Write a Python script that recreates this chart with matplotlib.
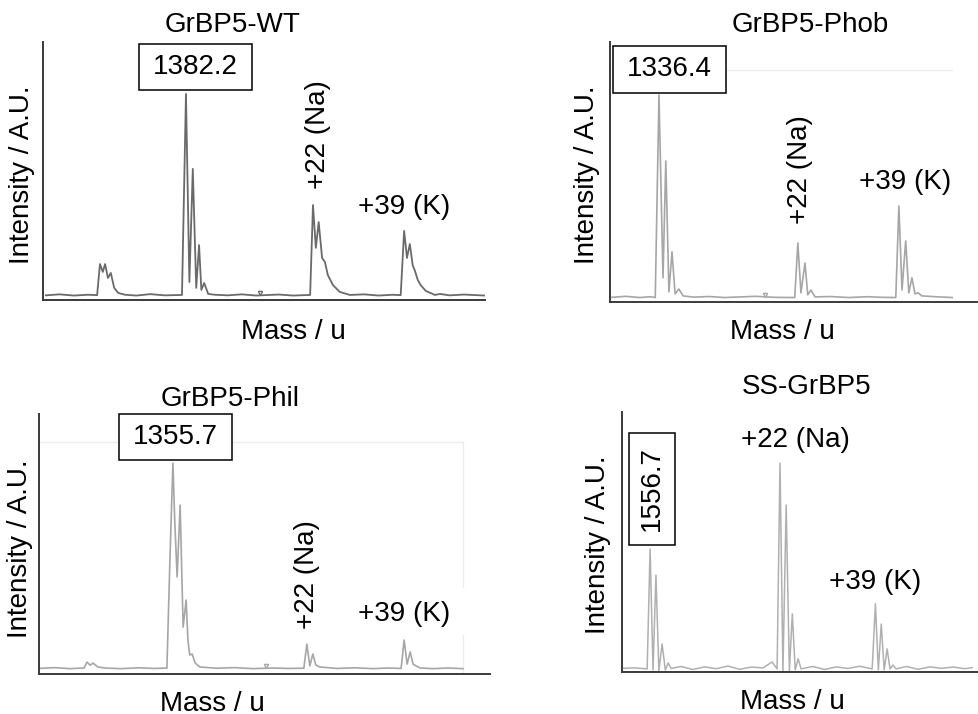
import numpy as np
import matplotlib
matplotlib.use("Agg")
import matplotlib.pyplot as plt
from matplotlib.patches import Rectangle

plt.rcParams['font.family'] = ['Liberation Sans', 'DejaVu Sans']

W, H = 979, 714

# --- spectra: mass (u) and intensity (% of panel max) ---
wt_mass = [1357.6, 1360.0, 1362.5, 1365.0, 1366.6, 1367.1, 1367.6, 1368.0, 1368.5, 1369.0,
           1369.6, 1370.3, 1371.5, 1373.5, 1375.9, 1378.5, 1381.5, 1382.2, 1382.8, 1383.4,
           1384.0, 1384.5, 1384.9, 1385.4, 1386.1, 1387.3, 1389.5, 1392.0, 1394.5, 1396.0,
           1398.5, 1401.0, 1404.0, 1404.5, 1405.0, 1405.5, 1406.1, 1406.6, 1407.1, 1408.0,
           1409.2, 1411.0, 1413.5, 1416.0, 1418.5, 1419.9, 1420.5, 1421.0, 1421.5, 1422.0,
           1422.4, 1422.9, 1423.4, 1424.3, 1425.9, 1426.8, 1428.5, 1431.0, 1434.7]
wt_int = [0.3, 0.8, 0.2, 0.6, 0.4, 15.8, 11.9, 15.8, 8.9, 11.4,
          4.0, 1.5, 0.6, 0.2, 0.9, 0.3, 0.5, 100.0, 6.9, 62.9,
          4.0, 25.2, 3.0, 6.4, 1.0, 0.6, 0.3, 0.8, 0.2, 0.4,
          0.7, 0.2, 0.5, 45.0, 23.8, 36.6, 18.8, 16.8, 10.4, 5.4,
          2.0, 0.5, 0.8, 0.2, 0.6, 0.4, 32.2, 18.8, 25.7, 15.3,
          12.4, 7.9, 5.4, 2.5, 0.5, 1.0, 0.3, 0.7, 0.2]

phob_mass = [1328.8, 1331.0, 1333.3, 1335.0, 1335.8, 1336.4, 1337.05, 1337.5, 1338.0, 1338.5,
             1339.0, 1339.6, 1340.3, 1342.0, 1344.5, 1347.0, 1349.5, 1352.0, 1355.0, 1358.3,
             1358.8, 1359.3, 1359.95, 1360.4, 1360.9, 1361.6, 1364.0, 1367.0, 1370.0, 1372.5,
             1374.6, 1375.1, 1375.6, 1376.2, 1376.7, 1377.2, 1377.7, 1378.2, 1378.8, 1381.0,
             1383.7]
phob_int = [0.3, 0.8, 0.2, 0.6, 0.2, 100.0, 9.9, 67.5, 3.0, 22.7,
            2.0, 4.4, 1.0, 0.4, 0.7, 0.2, 0.5, 0.8, 0.3, 0.2,
            27.1, 2.5, 17.2, 1.5, 3.9, 0.5, 0.7, 0.2, 0.6, 0.3,
            0.2, 45.3, 3.9, 28.1, 2.5, 9.9, 2.0, 2.5, 1.0, 0.6,
            0.2]

phil_mass = [1333.5, 1336.0, 1338.5, 1340.9, 1341.4, 1341.9, 1342.4, 1343.2, 1344.4, 1347.0,
             1350.0, 1352.5, 1354.7, 1355.2, 1355.7, 1356.0, 1356.4, 1356.9, 1357.4, 1357.9,
             1358.2, 1358.5, 1358.9, 1359.4, 1360.2, 1363.0, 1366.0, 1369.0, 1372.5, 1375.0,
             1377.5, 1378.0, 1378.5, 1379.0, 1379.5, 1380.2, 1383.0, 1386.0, 1389.0, 1391.5,
             1393.7, 1394.2, 1394.7, 1395.2, 1395.7, 1396.2, 1396.9, 1399.0, 1401.5, 1404.0]
phil_int = [0.3, 0.7, 0.2, 0.5, 3.4, 1.9, 2.9, 1.0, 0.5, 0.2,
            0.6, 0.3, 0.5, 52.9, 100.0, 72.3, 44.7, 79.6, 20.4, 33.5,
            14.1, 6.8, 7.3, 2.9, 1.0, 0.4, 0.7, 0.2, 0.5, 0.3,
            0.4, 12.1, 1.5, 7.3, 1.9, 1.0, 0.3, 0.6, 0.2, 0.5,
            0.3, 14.1, 2.4, 8.3, 2.4, 1.5, 0.5, 0.2, 0.5, 0.2]

ss_mass = [1552.1, 1554.1, 1556.2, 1556.7, 1557.2, 1557.7, 1558.2, 1558.75, 1559.3, 1559.8,
           1560.3, 1562.0, 1564.0, 1566.0, 1568.0, 1570.0, 1572.0, 1574.0, 1576.0, 1577.55,
           1578.4, 1578.9, 1579.4, 1579.95, 1580.5, 1581.0, 1581.5, 1582.0, 1582.5, 1584.5,
           1586.5, 1588.5, 1590.5, 1592.5, 1594.65, 1595.2, 1595.7, 1596.2, 1596.7, 1597.2,
           1597.7, 1598.2, 1598.75, 1600.5, 1602.5, 1604.5, 1606.5, 1608.5, 1610.5, 1611.7]
ss_int = [0.3, 0.5, 0.0, 58.3, -0.5, 45.6, -1.0, 12.1, -0.5, 2.9,
          0.2, 1.2, -0.3, 1.0, 0.1, 1.4, -0.2, 0.9, 0.5, 3.4,
          0.0, 100.0, -1.0, 79.6, -1.0, 26.7, -0.5, 4.9, 0.0, 1.2,
          -0.3, 1.0, 0.2, 1.3, 0.0, 31.6, -0.5, 21.8, -0.5, 9.7,
          0.0, 1.9, 0.0, 1.2, -0.2, 1.0, 0.3, 0.9, 0.1, 0.6]

# small instrument marks (mass, intensity)
wt_mark = (1395.2, 1.6)
phob_mark = (1353.5, 1.6)
phil_mark = (1371.2, 1.4)

titles = ["GrBP5-WT", "GrBP5-Phob", "GrBP5-Phil", "SS-GrBP5"]
main_labels = ["1382.2", "1336.4", "1355.7", "1556.7"]


def px_axes(x0, x1, ytop, ybot):
    ax = fig.add_axes([x0 / W, 1 - ybot / H, (x1 - x0) / W, (ybot - ytop) / H])
    ax.set_xticks([])
    ax.set_yticks([])
    for s in ("top", "right"):
        ax.spines[s].set_visible(False)
    for s in ("left", "bottom"):
        ax.spines[s].set_color("#3a3a3a")
        ax.spines[s].set_linewidth(1.4)
    ax.patch.set_alpha(0)
    return ax


def ftext(x, y, s, **kw):
    fig.text(x / W, 1 - y / H, s, ha="center", va="center", fontsize=20, **kw)


def fbox(x0, y0, x1, y1):
    fig.add_artist(Rectangle((x0 / W, 1 - y1 / H), (x1 - x0) / W, (y1 - y0) / H,
                             transform=fig.transFigure, facecolor="white",
                             edgecolor="black", linewidth=1.1, zorder=2))


fig = plt.figure(figsize=(W / 100, H / 100), dpi=100)

# --- GrBP5-WT ---
ax1 = px_axes(43, 485, 42, 300)
ax1.plot(wt_mass, wt_int, color="#6a6a6a", lw=1.3)
ax1.plot(*wt_mark, marker="v", ms=3, color="#6a6a6a", mfc="none")
ax1.set_xlim(1357.1, 1434.7)
ax1.set_ylim(-2.0, 125.7)

# --- GrBP5-Phob ---
ax2 = px_axes(610, 977, 42, 302)
ax2.plot([phob_mass[0], phob_mass[-1]], [112.3, 112.3], color="#ececec", lw=1.0)
ax2.plot(phob_mass, phob_int, color="#a6a6a6", lw=1.2)
ax2.plot(*phob_mark, marker="v", ms=3, color="#a6a6a6", mfc="none")
ax2.set_xlim(1328.5, 1387.7)
ax2.set_ylim(-2.0, 126.1)

# --- GrBP5-Phil ---
ax3 = px_axes(39, 490, 414, 674)
ax3.plot([phil_mass[0], phil_mass[-1], phil_mass[-1]], [110.2, 110.2, 39.8],
         color="#ececec", lw=1.0)
ax3.plot([phil_mass[-1], phil_mass[-1]], [16.5, -2.4], color="#ececec", lw=1.0)
ax3.plot(phil_mass, phil_int, color="#a6a6a6", lw=1.2)
ax3.plot(*phil_mark, marker="v", ms=3, color="#a6a6a6", mfc="none")
ax3.set_xlim(1333.4, 1408.5)
ax3.set_ylim(-2.4, 123.8)

# --- SS-GrBP5 ---
ax4 = px_axes(622, 979, 412, 672)
ax4.plot(ss_mass, ss_int, color="#b0b0b0", lw=1.1)
ax4.set_xlim(1551.9, 1612.9)
ax4.set_ylim(-1.5, 124.8)

# titles and axis labels
for (tx, ty), (yx, yy), (mx, my), t in zip(
        [(233, 25), (810, 25), (230, 399), (807, 387)],
        [(22, 175), (587, 175), (20, 549), (598, 545)],
        [(293, 332), (782, 332), (212, 704), (792, 702)], titles):
    ftext(tx, ty, t)
    ftext(yx, yy, "Intensity / A.U.", rotation=90)
    ftext(mx, my, "Mass / u")

# main peak boxes
fbox(139, 44, 252, 90)
ftext(195.5, 67, main_labels[0], zorder=3)
fbox(613, 46, 726, 93)
ftext(669.5, 69.5, main_labels[1], zorder=3)
fbox(119, 414, 232, 460)
ftext(175.5, 437, main_labels[2], zorder=3)
fbox(629, 433, 675, 545)
ftext(652, 489, main_labels[3], rotation=90, zorder=3)

# adduct labels
ftext(318, 135, "+22 (Na)", rotation=90)
ftext(404, 207, "+39 (K)")
ftext(800, 170, "+22 (Na)", rotation=90)
ftext(905, 182, "+39 (K)")
ftext(307, 575, "+22 (Na)", rotation=90)
ftext(404, 614, "+39 (K)")
ftext(795, 440, "+22 (Na)")
ftext(875, 582, "+39 (K)")

fig.savefig("out.png", dpi=100)
